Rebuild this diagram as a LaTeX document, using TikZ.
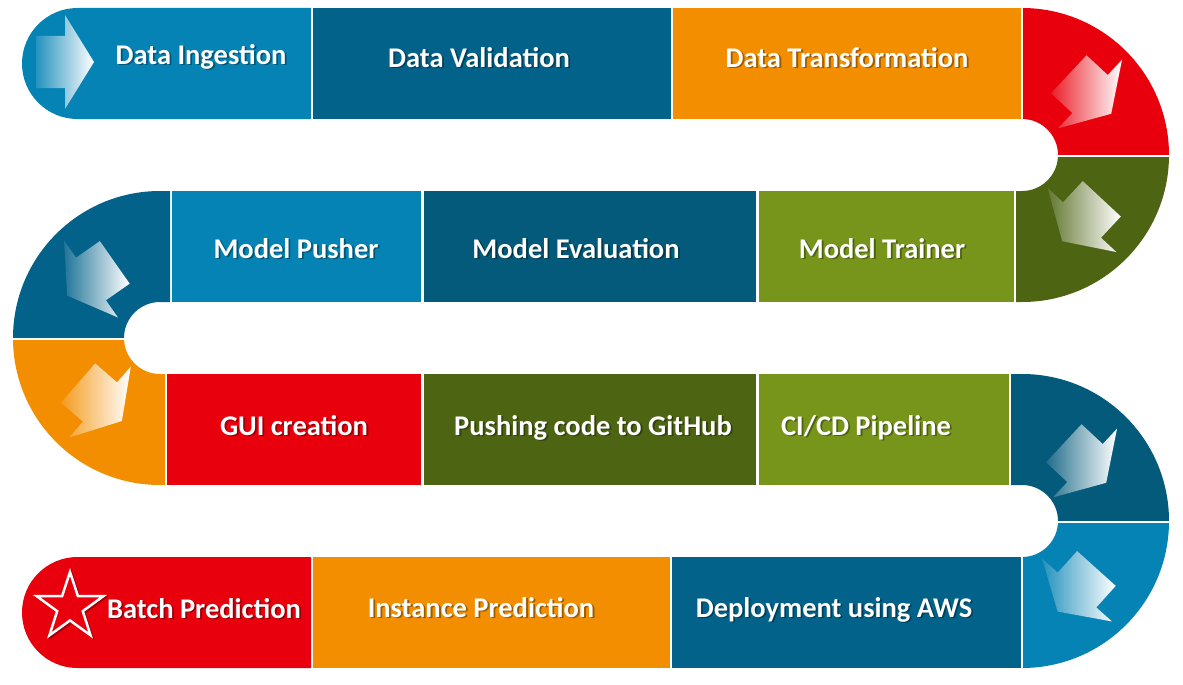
\documentclass[tikz,border=0pt]{standalone}
\usepackage{fontspec}
\setmainfont{Carlito}
\usetikzlibrary{shapes.geometric}
\definecolor{cLB}{HTML}{0683B5}
\definecolor{cDB}{HTML}{03628A}
\definecolor{cDD}{HTML}{035A7A}
\definecolor{cOR}{HTML}{F28E00}
\definecolor{cRD}{HTML}{E8000C}
\definecolor{cDG}{HTML}{4D6413}
\definecolor{cOL}{HTML}{76951A}
\tikzset{
  blk/.style={rectangle, inner sep=0pt, outer sep=0pt, anchor=north west, minimum height=111pt},
  lbl/.style={text=white, font=\bfseries\fontsize{28.5}{32}\selectfont, anchor=base, inner sep=0pt},
  lblshadow/.style={text=black, text opacity=0.35, font=\bfseries\fontsize{28.5}{32}\selectfont, anchor=base, inner sep=0pt},
  seam/.style={white, line width=2pt},
}
\newcommand\steplabel[4]{%
  \node[lblshadow] (#1s) at (#2+1.8,#3-1.8) {#4};
  \node[lbl] (#1) at (#2,#3) {#4};}
\newcommand\flowarrow[4]{%
  \begin{scope}[shift={(#1,#2)}, rotate=#3]
    \shade[left color=#4!88!white, right color=white, shading angle=90]
      (-29,26) -- (0,26) -- (0,47) -- (29,0) -- (0,-47) -- (0,-26) -- (-29,-26) -- cycle;
  \end{scope}}
\begin{document}
\begin{tikzpicture}[x=1pt,y=1pt]
\fill[white] (0,0) rectangle (1183,-685);
\useasboundingbox (0,0) rectangle (1183,-685);
% ---- curves
\fill[cRD] (1023,-8) -- (1022,-8) arc[start angle=90,end angle=0,radius=147] -- (1058,-155) arc[start angle=0,end angle=90,radius=36] -- (1023,-119) -- cycle;
\fill[cDG] (1016,-191) -- (1022,-191) arc[start angle=-90,end angle=0,radius=36] -- (1169,-155) arc[start angle=0,end angle=-90,radius=147] -- (1016,-302) -- cycle;
\fill[cDB] (170,-191) -- (160,-191) arc[start angle=90,end angle=180,radius=147] -- (124,-338) arc[start angle=180,end angle=90,radius=36] -- (170,-302) -- cycle;
\fill[cOR] (165,-485) -- (160,-485) arc[start angle=270,end angle=180,radius=147] -- (124,-338) arc[start angle=180,end angle=270,radius=36] -- (165,-374) -- cycle;
\fill[cDD] (1011,-374) -- (1022,-374) arc[start angle=90,end angle=0,radius=147] -- (1058,-521) arc[start angle=0,end angle=90,radius=36] -- (1011,-485) -- cycle;
\fill[cLB] (1023,-557) -- (1022,-557) arc[start angle=-90,end angle=0,radius=36] -- (1169,-521) arc[start angle=0,end angle=-90,radius=147] -- (1023,-668) -- cycle;
\draw[seam] (1056,-155.5) -- (1171,-155.5);
\draw[seam] (10,-338.5) -- (126,-338.5);
\draw[seam] (1056,-521.5) -- (1171,-521.5);
% ---- row 1
\fill[cLB] (311,-8) -- (77.5,-8) arc[start angle=90,end angle=270,radius=55.5] -- (311,-119) -- cycle;
\coordinate (b1) at (166,-63.5);
\node[blk, fill=cDB, minimum width=358pt] (b2) at (313,-8) {};
\node[blk, fill=cOR, minimum width=348pt] (b3) at (673,-8) {};
% ---- row 2
\node[blk, fill=cLB, minimum width=249pt] (b4) at (172,-191) {};
\node[blk, fill=cDD, minimum width=332pt] (b5) at (424,-191) {};
\node[blk, fill=cOL, minimum width=255pt] (b6) at (759,-191) {};
% ---- row 3
\node[blk, fill=cRD, minimum width=254pt] (b7) at (167,-374) {};
\node[blk, fill=cDG, minimum width=332pt] (b8) at (424,-374) {};
\node[blk, fill=cOL, minimum width=250pt] (b9) at (759,-374) {};
% ---- row 4
\fill[cRD] (311,-557) -- (77.5,-557) arc[start angle=90,end angle=270,radius=55.5] -- (311,-668) -- cycle;
\coordinate (b10) at (166,-612.5);
\node[blk, fill=cOR, minimum width=357pt] (b11) at (313,-557) {};
\node[blk, fill=cDB, minimum width=349pt] (b12) at (672,-557) {};
% ---- arrows
\flowarrow{65}{-62}{0}{cLB}
\flowarrow{1090}{-94}{-43}{cRD}
\flowarrow{1082}{-220}{-133}{cDG}
\flowarrow{91}{-279}{-145}{cDB}
\flowarrow{100}{-402}{-41}{cOR}
\flowarrow{1085}{-463}{-43}{cDD}
\flowarrow{1077}{-590}{-132}{cLB}
% ---- star
\node[star, star points=5, star point ratio=2.6, minimum size=70pt, inner sep=0pt, draw=black, draw opacity=0.3, line width=2.5pt] (stars) at (71.5,-608.5) {};
\node[star, star points=5, star point ratio=2.6, minimum size=70pt, inner sep=0pt, draw=white, fill=cRD, line width=2.5pt] (star) at (70,-607) {};
% ---- labels
\steplabel{t1}{201}{-64}{Data Ingestion}
\steplabel{t2}{479}{-67}{Data Validation}
\steplabel{t3}{847}{-67}{Data Transformation}
\steplabel{t4}{296}{-258}{Model Pusher}
\steplabel{t5}{576}{-258}{Model Evaluation}
\steplabel{t6}{882}{-258}{Model Trainer}
\steplabel{t7}{294}{-435}{GUI creation}
\steplabel{t8}{593}{-435}{Pushing code to GitHub}
\steplabel{t9}{866}{-435}{CI/CD Pipeline}
\steplabel{t10}{204}{-618}{Batch Prediction}
\steplabel{t11}{481}{-617}{Instance Prediction}
\steplabel{t12}{834}{-617}{Deployment using AWS}
\end{tikzpicture}
\end{document}
